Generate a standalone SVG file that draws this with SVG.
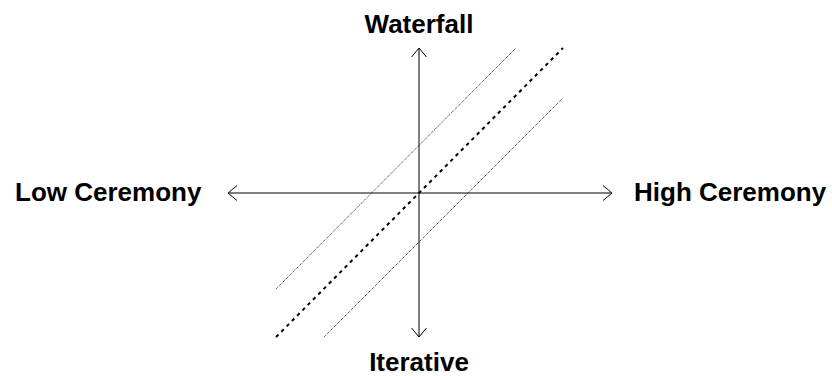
<svg xmlns="http://www.w3.org/2000/svg" width="832" height="376" viewBox="0 0 832 376">
<style>
.lbl{font-family:"Liberation Sans",Arial,sans-serif;font-weight:bold;font-size:26px;fill:#000}
.axis{stroke:#000;stroke-width:1;fill:none}
.dot{stroke:#222;stroke-width:1;stroke-dasharray:1 1;fill:none}
.dash{stroke:#000;stroke-width:2;stroke-dasharray:3.5 4;fill:none}
</style>
<defs>
<marker id="ah" markerUnits="userSpaceOnUse" markerWidth="20" markerHeight="20" viewBox="-10 -10 20 20" refX="0" refY="0" orient="auto-start-reverse">
<path d="M-9,-7.5 L0,0 L-9,7.5" fill="none" stroke="#000" stroke-width="1"/>
</marker>
</defs>
<g id="connectors">
<line class="axis" x1="419" y1="337" x2="419" y2="48" marker-start="url(#ah)" marker-end="url(#ah)"/>
<line class="axis" x1="228" y1="193" x2="612" y2="193" marker-start="url(#ah)" marker-end="url(#ah)"/>
<line class="dot" x1="276" y1="289" x2="516" y2="48"/>
<line class="dash" x1="276" y1="337" x2="563" y2="48"/>
<line class="dot" x1="324" y1="337" x2="563" y2="98"/>
</g>
<g id="waterfall"><text class="lbl" x="419" y="33" text-anchor="middle">Waterfall</text></g>
<g id="iterative"><text class="lbl" x="419" y="371" text-anchor="middle">Iterative</text></g>
<g id="low-ceremony"><text class="lbl" x="15" y="201">Low Ceremony</text></g>
<g id="high-ceremony"><text class="lbl" x="634" y="201">High Ceremony</text></g>
</svg>
